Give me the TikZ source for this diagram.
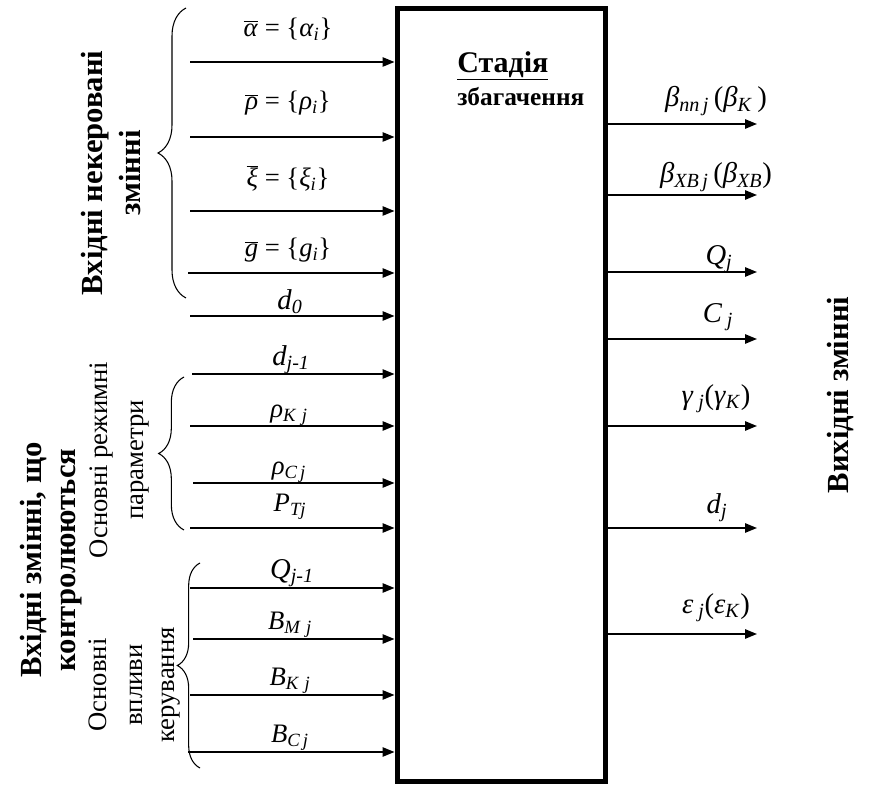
\documentclass[tikz,border=0pt]{standalone}
\usepackage{fontspec}
\setmainfont{Liberation Serif}
\usetikzlibrary{arrows.meta,decorations.pathreplacing}

\newcommand{\vv}[1]{\textit{#1}}
\newcommand{\vsub}[1]{\textsubscript{\textit{#1}}}
\newcommand{\vbar}[1]{\(\overline{\hbox{\textit{#1}}}\)}

\begin{document}
\begin{tikzpicture}[x=0.75pt,y=-0.75pt,
    flow/.style={-{Triangle[length=9pt,width=7pt]},line width=1.3pt},
    curly/.style={line width=0.8pt,decorate},
    eqlabel/.style={inner sep=0pt,font=\fontsize{20}{24}\selectfont},
    varlabel/.style={inner sep=0pt,font=\fontsize{21.5}{26}\selectfont},
    outlabel/.style={inner sep=0pt,font=\fontsize{21.5}{26}\selectfont},
    sidelabel/.style={inner sep=0pt,rotate=90,align=center,font=\bfseries\fontsize{23}{28.5}\selectfont},
    grouplabel/.style={inner sep=0pt,rotate=90,align=center,font=\fontsize{20}{26}\selectfont}]
    \useasboundingbox (0,0) rectangle (872,787);

    % Stage block
    \node[draw,line width=3.75pt,minimum width=156pt,minimum height=579.75pt,inner sep=0pt] (stage) at (501,395.5) {};
    \node[inner sep=0pt,anchor=north west,align=left,font=\bfseries\fontsize{19}{24.75}\selectfont] (title) at (457,51) {{\fontsize{22.5}{24.75}\selectfont\underline{Стадія}}\\збагачення};

    % Uncontrolled inputs
    \draw[flow] (190,62) coordinate (inAlpha) -- (inAlpha -| stage.west);
    \node[eqlabel] (labAlpha) at (288,29) {\vbar{α} = \{\vv{α}\vsub{i}\}};
    \draw[flow] (190,137) coordinate (inRho) -- (inRho -| stage.west);
    \node[eqlabel] (labRho) at (288,103) {\vbar{ρ} = \{\vv{ρ}\vsub{i}\}};
    \draw[flow] (190,211) coordinate (inXi) -- (inXi -| stage.west);
    \node[eqlabel] (labXi) at (288,178) {\vbar{ξ} = \{\vv{ξ}\vsub{i}\}};
    \draw[flow] (188,273) coordinate (inG) -- (inG -| stage.west);
    \node[eqlabel] (labG) at (288,250) {\vbar{g} = \{\vv{g}\vsub{i}\}};
    \draw[flow] (190,316) coordinate (inDzero) -- (inDzero -| stage.west);
    \node[varlabel] (labDzero) at (290,302) {\vv{d}\vsub{0}};

    % Main regime parameters
    \draw[flow] (192,374) coordinate (inDprev) -- (inDprev -| stage.west);
    \node[varlabel] (labDprev) at (291,360) {\vv{d}\vsub{j-1}};
    \draw[flow] (190,426) coordinate (inRhoK) -- (inRhoK -| stage.west);
    \node[eqlabel] (labRhoK) at (289,415) {\vv{ρ}\vsub{K\,\,j}};
    \draw[flow] (193,483) coordinate (inRhoC) -- (inRhoC -| stage.west);
    \node[eqlabel] (labRhoC) at (289,472) {\vv{ρ}\vsub{C\,j}};
    \draw[flow] (190,528) coordinate (inPT) -- (inPT -| stage.west);
    \node[eqlabel] (labPT) at (290,507) {\vv{P}\vsub{Tj}};

    % Main control actions
    \draw[flow] (190,588) coordinate (inQprev) -- (inQprev -| stage.west);
    \node[varlabel] (labQprev) at (292,573) {\vv{Q}\vsub{j-1}};
    \draw[flow] (193,639) coordinate (inBM) -- (inBM -| stage.west);
    \node[eqlabel] (labBM) at (290,625) {\vv{B}\vsub{M\,\,j}};
    \draw[flow] (190,695) coordinate (inBK) -- (inBK -| stage.west);
    \node[eqlabel] (labBK) at (290,681) {\vv{B}\vsub{K\,\,j}};
    \draw[flow] (188,752) coordinate (inBC) -- (inBC -| stage.west);
    \node[eqlabel] (labBC) at (290,738) {\vv{B}\vsub{C\,j}};

    % Outputs
    \coordinate (outBnn) at (757,124);
    \draw[flow] (outBnn -| stage.east) -- (outBnn);
    \node[outlabel] (labBnn) at (716,101) {\vv{β}\vsub{nn\,j}\,(\vv{β}\vsub{K}\,)};
    \coordinate (outBxb) at (757,195);
    \draw[flow] (outBxb -| stage.east) -- (outBxb);
    \node[outlabel] (labBxb) at (716,177) {\vv{β}\vsub{XB\,j}\,(\vv{β}\vsub{XB})};
    \coordinate (outQ) at (757,272);
    \draw[flow] (outQ -| stage.east) -- (outQ);
    \node[varlabel] (labQ) at (719,259) {\vv{Q}\vsub{j}};
    \coordinate (outC) at (757,339);
    \draw[flow] (outC -| stage.east) -- (outC);
    \node[outlabel] (labC) at (718,317) {\vv{C}\,\vsub{j}};
    \coordinate (outGamma) at (757,426);
    \draw[flow] (outGamma -| stage.east) -- (outGamma);
    \node[outlabel] (labGamma) at (716,399) {\vv{γ}\,\vsub{j}(\vv{γ}\vsub{K})};
    \coordinate (outD) at (757,528);
    \draw[flow] (outD -| stage.east) -- (outD);
    \node[varlabel] (labD) at (717,508) {\vv{d}\vsub{j}};
    \coordinate (outEps) at (757,634);
    \draw[flow] (outEps -| stage.east) -- (outEps);
    \node[outlabel] (labEps) at (716,608) {\vv{ε}\,\vsub{j}(\vv{ε}\vsub{K})};

    % Braces
    \draw[curly,decoration={brace,amplitude=21pt}] (186,298) -- (186,8);
    \draw[curly,decoration={brace,amplitude=19pt}] (184,530) -- (184,377);
    \draw[curly,decoration={brace,amplitude=17pt}] (200,768) -- (200,563);

    % Group titles
    \node[sidelabel] (uncontrolled) at (111,173) {Вхідні некеровані\\змінні};
    \node[sidelabel] (controlled) at (51,560) {Вхідні змінні, що\\[-3pt]контролюються};
    \node[grouplabel] (regime) at (120,460) {Основні режимні\\[1pt]параметри};
    \node[grouplabel] (control) at (135,685) {Основні\\[1pt]впливи\\[-2pt]керування};
    \node[sidelabel] (outputs) at (841,395) {Вихідні змінні};
\end{tikzpicture}
\end{document}
